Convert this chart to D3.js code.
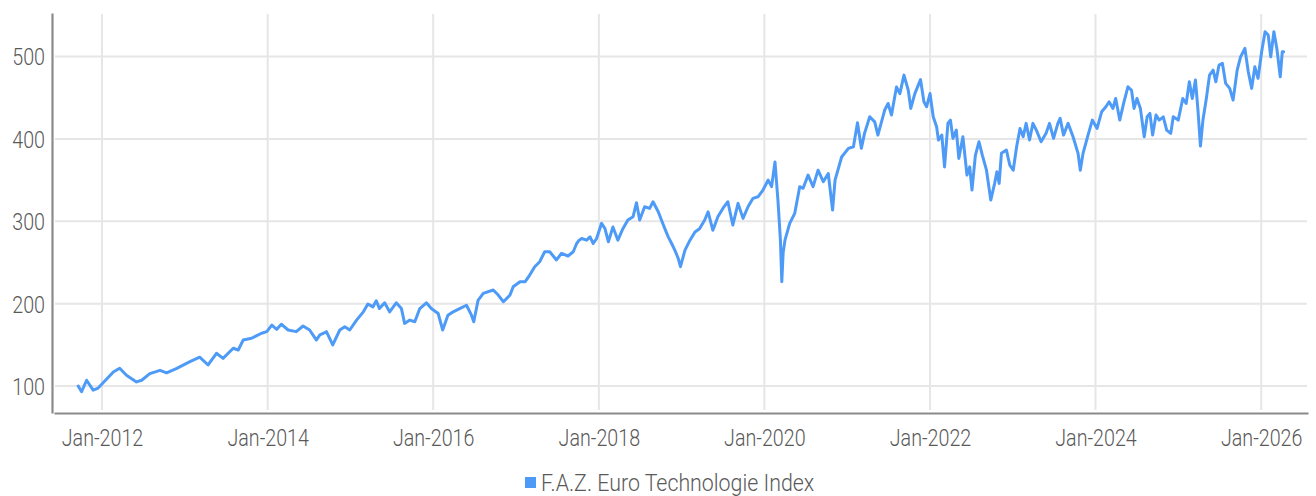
<!DOCTYPE html>
<html><head><meta charset="utf-8">
<script src="https://cdn.jsdelivr.net/npm/d3@7"></script>
<style>
html,body{margin:0;padding:0;background:#fff;}
svg{display:block;font-family:Roboto,"Noto Sans",sans-serif;font-weight:300;}
</style></head>
<body><svg id="c" width="1316" height="496"></svg>
<script>
const seriesName = "F.A.Z. Euro Technologie Index";
const dates = ["2011-09-18","2011-10-03","2011-10-25","2011-11-23","2011-12-15","2012-01-06","2012-02-20","2012-03-19","2012-04-18","2012-06-01","2012-06-24","2012-07-30","2012-09-13","2012-10-12","2012-11-26","2013-01-23","2013-03-07","2013-04-13","2013-05-20","2013-06-18","2013-08-02","2013-08-24","2013-09-15","2013-10-22","2013-12-05","2013-12-28","2014-01-19","2014-02-10","2014-03-02","2014-04-01","2014-05-07","2014-06-06","2014-07-05","2014-08-04","2014-08-19","2014-09-10","2014-09-17","2014-10-15","2014-11-15","2014-12-07","2014-12-29","2015-01-28","2015-02-27","2015-03-19","2015-04-10","2015-04-25","2015-05-09","2015-06-01","2015-06-23","2015-07-22","2015-08-14","2015-08-28","2015-09-20","2015-10-12","2015-11-03","2015-12-02","2015-12-24","2016-01-23","2016-02-12","2016-03-06","2016-03-29","2016-04-27","2016-05-27","2016-06-18","2016-06-28","2016-07-17","2016-08-09","2016-09-22","2016-10-14","2016-11-06","2016-12-05","2016-12-19","2017-01-18","2017-02-10","2017-03-02","2017-03-24","2017-04-15","2017-05-07","2017-05-29","2017-06-28","2017-07-20","2017-08-18","2017-09-10","2017-09-25","2017-10-06","2017-10-17","2017-11-08","2017-11-23","2017-12-07","2017-12-22","2018-01-13","2018-01-28","2018-02-12","2018-03-04","2018-03-26","2018-04-17","2018-05-09","2018-06-01","2018-06-16","2018-06-30","2018-07-22","2018-08-13","2018-08-28","2018-09-20","2018-10-04","2018-10-19","2018-11-03","2018-11-18","2018-12-02","2018-12-17","2018-12-27","2019-01-16","2019-02-07","2019-03-01","2019-03-21","2019-04-13","2019-04-28","2019-05-19","2019-06-10","2019-07-02","2019-07-24","2019-08-15","2019-09-07","2019-09-29","2019-10-21","2019-11-12","2019-12-04","2019-12-26","2020-01-18","2020-02-02","2020-02-17","2020-03-01","2020-03-12","2020-03-18","2020-03-24","2020-04-01","2020-04-22","2020-05-14","2020-06-05","2020-06-20","2020-07-12","2020-08-03","2020-08-25","2020-09-17","2020-10-09","2020-10-28","2020-11-08","2020-12-07","2021-01-06","2021-01-28","2021-02-15","2021-03-04","2021-03-18","2021-04-10","2021-05-02","2021-05-16","2021-06-15","2021-06-30","2021-07-15","2021-08-06","2021-08-21","2021-09-08","2021-09-27","2021-10-08","2021-10-26","2021-11-20","2021-12-05","2021-12-17","2022-01-01","2022-01-15","2022-01-30","2022-02-07","2022-02-22","2022-03-06","2022-03-21","2022-04-01","2022-04-12","2022-04-27","2022-05-08","2022-05-26","2022-06-13","2022-06-25","2022-07-05","2022-07-20","2022-08-05","2022-08-20","2022-09-07","2022-09-26","2022-10-13","2022-10-23","2022-11-02","2022-11-12","2022-12-04","2022-12-19","2023-01-03","2023-01-18","2023-02-02","2023-02-16","2023-03-01","2023-03-16","2023-03-31","2023-04-15","2023-05-06","2023-05-28","2023-06-12","2023-06-30","2023-07-19","2023-07-29","2023-08-13","2023-09-02","2023-09-24","2023-10-16","2023-10-26","2023-11-07","2023-11-29","2023-12-18","2024-01-08","2024-01-28","2024-02-16","2024-03-01","2024-03-18","2024-03-30","2024-04-17","2024-05-04","2024-05-23","2024-06-08","2024-06-19","2024-07-02","2024-07-17","2024-08-03","2024-08-16","2024-08-28","2024-09-09","2024-09-24","2024-10-08","2024-10-26","2024-11-10","2024-11-28","2024-12-09","2024-12-31","2025-01-20","2025-02-04","2025-02-18","2025-03-03","2025-03-17","2025-03-28","2025-04-08","2025-04-19","2025-05-04","2025-05-18","2025-06-03","2025-06-15","2025-06-29","2025-07-14","2025-07-28","2025-08-15","2025-08-30","2025-09-17","2025-10-02","2025-10-21","2025-11-05","2025-11-20","2025-12-04","2025-12-18","2026-01-03","2026-01-18","2026-02-01","2026-02-12","2026-02-26","2026-03-11","2026-03-26","2026-04-04","2026-04-10"];
const values = [100,93,107,95,97.5,104,117,121.5,113,105,107,115,119,116,121.5,129.5,135,125.5,139.7,133.6,145.8,143.7,155.8,158,164,166,174,168.8,175,168,166,172.8,168,155.8,162,164.7,166,150,168,172,168,180,190,199.5,196,203.5,194,201,190,201,194,176,180,178,194,201,194,188,168,186,190,194,198,186,178,204,212.5,216.5,210.4,202.3,210.4,220.5,226.6,226.6,234.7,244.8,250.8,263,263,253,261,257.8,263,273,277,279,277,281,273,279,297.5,291,275,293,277,291,301.5,305.5,322.5,301.5,317.6,315.6,323.7,311.5,301.5,291,281,273,265,255,244.8,265,277,287,291,301.5,311.5,289,305.5,315.6,323.7,295.4,321.7,303.5,317.6,327.8,329.7,337.9,350,342,372,325.7,277,226.6,262,277,297.5,309.5,342,340,356,342,362,348,358,313.6,350,378,388.5,390.4,419.5,388.5,406.7,426.8,420.7,404.6,435,443,428.9,463,455,477.4,459,437,455,472,445,439,455,426.8,414.7,398.6,404.6,366,419,422.8,400.6,410.7,376.3,402.6,356,366,337.9,380,396.5,380,362,325.7,346,360,346,382.4,386.4,368,362,390.4,412.7,402.6,418.8,398.6,418.8,410.7,396.5,406.7,418.8,400.6,418.8,424.9,404.6,418.8,402.6,382.4,362,382.4,404.6,422.8,412.7,432.9,439,445,437,449,422.8,443,463.2,459,437,449,437,402.6,426.8,431,404.6,428.9,422.8,426.8,410.7,406.7,426.8,422.8,449,443,469.3,449,471.4,435,391.3,422.8,449,477.4,483.5,469.3,489.6,491.6,467.4,461.3,447,483.5,499.6,509.8,481.4,461.3,487.5,473.4,505.7,530,526,499.6,530,509.8,475.4,505.7,505.7];
const yTicks = [100,200,300,400,500];
const xTickDates = ["2012-01-01","2014-01-01","2016-01-01","2018-01-01","2020-01-01","2022-01-01","2024-01-01","2026-01-01"];
const xTickLabels = ["Jan-2012","Jan-2014","Jan-2016","Jan-2018","Jan-2020","Jan-2022","Jan-2024","Jan-2026"];

const parse = d3.utcParse("%Y-%m-%d");
const data = dates.map((d,i)=>({date:parse(d), value:values[i]}));

const C = {line:"#4e9bf7", grid:"#e6e6e6", axis:"#8a8a8a", text:"#595959"};
const L = {left:54, right:1308, top:13, bottom:413};
const SX = 0.82, SXL = 0.89;

const svg = d3.select("#c");

const xBase = d3.scaleUtc().domain([parse("2012-01-01"), parse("2026-01-01")]).range([102, 1261.2]);
const x = d3.scaleUtc().domain([xBase.invert(L.left), xBase.invert(L.right)]).range([L.left, L.right]);
const yBase = d3.scaleLinear().domain([100,500]).range([386,56.5]);
const y = d3.scaleLinear().domain([yBase.invert(L.bottom), yBase.invert(L.top)]).range([L.bottom, L.top]);

svg.append("g").selectAll("line").data(yTicks).join("line")
  .attr("x1", L.left+1).attr("x2", L.right-1)
  .attr("y1", d=>y(d)).attr("y2", d=>y(d))
  .attr("stroke", C.grid).attr("stroke-width", 2);
svg.append("g").selectAll("line").data(xTickDates).join("line")
  .attr("x1", d=>x(parse(d))).attr("x2", d=>x(parse(d)))
  .attr("y1", L.top+1).attr("y2", L.bottom-3)
  .attr("stroke", C.grid).attr("stroke-width", 2);

const line = d3.line().x(d=>x(d.date)).y(d=>y(d.value)).curve(d3.curveLinear);
svg.append("path").datum(data).attr("d", line)
  .attr("fill","none").attr("stroke", C.line).attr("stroke-width", 3)
  .attr("stroke-linejoin","round").attr("stroke-linecap","round");

const xAxis = d3.axisBottom(x).tickValues(xTickDates.map(parse)).tickSize(0)
  .tickFormat((d,i)=>xTickLabels[i]);
const gx = svg.append("g").attr("transform",`translate(0,${L.bottom})`).call(xAxis);
gx.select(".domain").attr("stroke", C.axis).attr("stroke-width", 2.2);
gx.selectAll("text").attr("fill", C.text).attr("font-size", 24).attr("font-weight",300)
  .attr("font-family","Roboto").attr("y", 33).attr("dy", 0)
  .attr("transform", `scale(${SX},1)`);

const yAxis = d3.axisLeft(y).tickValues(yTicks).tickSize(0).tickFormat(d3.format("d"));
const gy = svg.append("g").attr("transform",`translate(${L.left-2},0)`).call(yAxis);
gy.select(".domain").attr("stroke", C.axis).attr("stroke-width", 2.2);
gy.selectAll("text").attr("fill", C.text).attr("font-size", 24).attr("font-weight",300)
  .attr("font-family","Roboto").attr("x", -7/SX).attr("dy","0.35em")
  .attr("transform", `scale(${SX},1)`);

const lg = svg.append("g").attr("transform","translate(525,477)");
lg.append("rect").attr("width",11).attr("height",11).attr("fill",C.line);
lg.append("text").attr("x", 16/SXL).attr("y", 14).text(seriesName)
  .attr("fill", C.text).attr("font-size", 24).attr("font-weight",300).attr("font-family","Roboto")
  .attr("transform", `scale(${SXL},1)`);
</script></body></html>
